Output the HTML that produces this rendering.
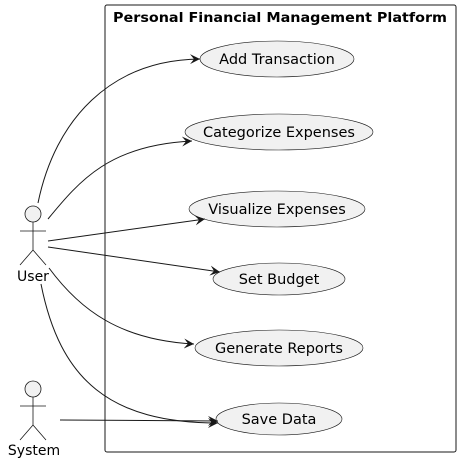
<!DOCTYPE html>
<html><head><style>body{margin:0;background:#fff}svg{display:block}text{font-family:"DejaVu Sans",sans-serif}</style></head><body>
<svg width="460" height="462" viewBox="0 0 460 462" xmlns="http://www.w3.org/2000/svg">
<defs><marker id="a" markerWidth="12" markerHeight="10" refX="10" refY="5" orient="auto" markerUnits="userSpaceOnUse"><path d="M0,0 L10,5 L0,10 L4,5 Z" fill="#181818"/></marker></defs>
<rect x="105" y="5" width="351" height="447" rx="2" fill="none" stroke="#181818" stroke-width="1"/>
<text x="280" y="22" font-size="13" font-weight="bold" text-anchor="middle" textLength="334" lengthAdjust="spacingAndGlyphs">Personal Financial Management Platform</text>
<g fill="#f1f1f1" stroke="#181818" stroke-width="0.6">
<ellipse cx="277" cy="59" rx="77" ry="18"/>
<ellipse cx="279" cy="132" rx="94" ry="18"/>
<ellipse cx="277" cy="209" rx="88" ry="18"/>
<ellipse cx="279" cy="279" rx="66" ry="16"/>
<ellipse cx="279" cy="348" rx="84" ry="18"/>
<ellipse cx="279" cy="419" rx="63" ry="16"/>
</g>
<g font-size="14.5" text-anchor="middle" fill="#000">
<text x="277" y="64">Add Transaction</text>
<text x="279" y="137">Categorize Expenses</text>
<text x="277" y="214">Visualize Expenses</text>
<text x="279" y="284">Set Budget</text>
<text x="279" y="353">Generate Reports</text>
<text x="279" y="424">Save Data</text>
</g>
<g fill="#f1f1f1" stroke="#181818" stroke-width="0.8">
<circle cx="33" cy="214" r="8"/>
<path d="M33,222 V250 M20,231 H46 M33,250 L20,265 M33,250 L46,265" fill="none"/>
<circle cx="33" cy="389" r="8"/>
<path d="M33,397 V425 M20,406 H46 M33,425 L20,440 M33,425 L46,440" fill="none"/>
</g>
<text x="33" y="281" font-size="14" text-anchor="middle">User</text>
<text x="34" y="455" font-size="14" text-anchor="middle">System</text>
<g fill="none" stroke="#181818" stroke-width="1" marker-end="url(#a)">
<path d="M38,203 C55,120 110,60 200,59"/>
<path d="M48,219 C80,180 110,145 192,141"/>
<path d="M48,241 L205,219"/>
<path d="M48,247 L220,272"/>
<path d="M49,268 C80,310 120,340 194,344"/>
<path d="M41,284 C60,380 110,423 218,423"/>
<path d="M60,420 L218,421"/>
</g>
</svg>
</body></html>
